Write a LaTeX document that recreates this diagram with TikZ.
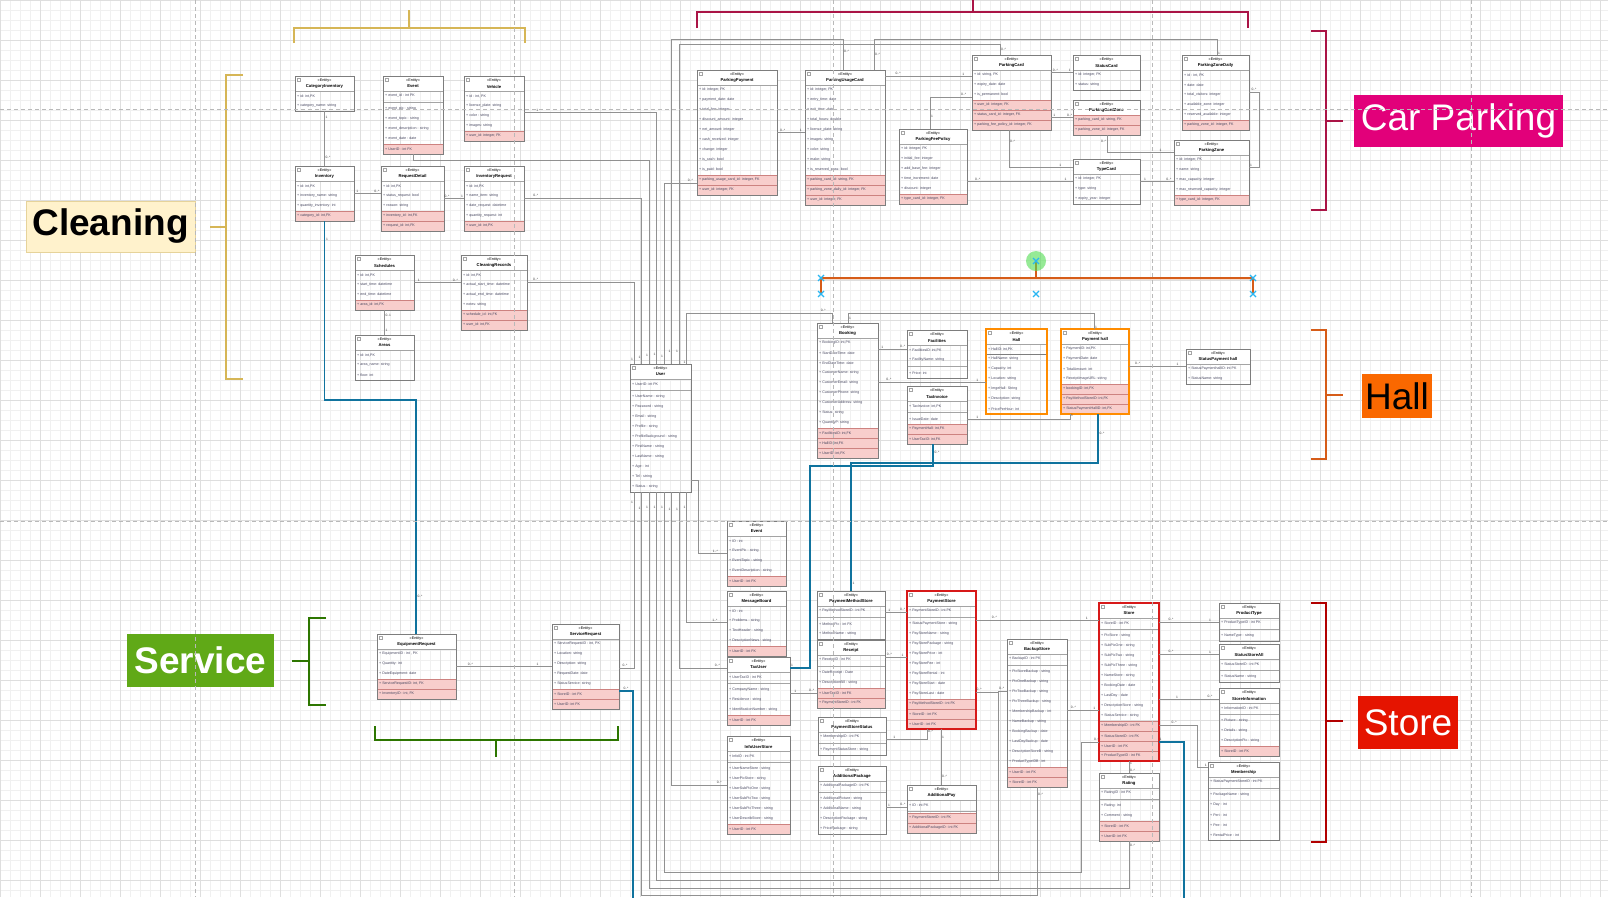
\documentclass[tikz,border=0pt]{standalone}
\usepackage{fontspec}
\setmainfont{Liberation Sans}
\usetikzlibrary{calc}
\definecolor{gridminor}{RGB}{240,240,240}
\definecolor{gridmajor}{RGB}{222,222,222}
\definecolor{pagedash}{RGB}{185,185,185}
\definecolor{entborder}{RGB}{125,125,125}
\definecolor{linegray}{RGB}{145,145,145}
\definecolor{fkpink}{RGB}{248,206,204}
\definecolor{fkline}{RGB}{205,130,128}
\definecolor{rowtext}{RGB}{70,70,95}
\definecolor{tealline}{RGB}{16,115,158}
\definecolor{hallorange}{RGB}{255,140,0}
\definecolor{storered}{RGB}{215,25,25}
\definecolor{cleangold}{RGB}{214,182,86}
\definecolor{cleanfill}{RGB}{255,242,204}
\definecolor{parkmag}{RGB}{226,0,122}
\definecolor{parkdark}{RGB}{170,20,70}
\definecolor{hallfill}{RGB}{250,104,0}
\definecolor{hallline}{RGB}{214,92,24}
\definecolor{servgreen}{RGB}{96,169,23}
\definecolor{servline}{RGB}{45,118,0}
\definecolor{storefill}{RGB}{229,20,0}
\definecolor{storeline}{RGB}{178,0,0}
\definecolor{handleblue}{RGB}{41,182,242}
\definecolor{handlegreen}{RGB}{80,220,80}
% one ER entity: [style]{name}{x}{y}{width}{title}{rows as text/kind}
\newcommand{\entitybox}[7][]{%
  \fill[white] (#3,#4) rectangle ++(#5,15);
  \node[entstereo] at ({#3+#5/2},#4+5) {«Entity»};
  \node[enttitle] at ({#3+#5/2},#4+10.5) {#6};
  \draw[entline] (#3+2,#4+2) rectangle ++(3,3);
  \draw[entline] (#3,#4+15) -- ++(#5,0);
  \pgfmathsetmacro\tmpy{#4+15}\global\let\rowy\tmpy
  \foreach \txt/\kind in {#7}{%
    \if\kind s
      \draw[entline] (#3,\rowy+1.5) -- ++(#5,0);
      \pgfmathsetmacro\nexty{\rowy+3}%
    \else\if\kind l
      \draw[entborder, line width=0.8pt] (#3,\rowy) -- ++(#5,0);
      \pgfmathsetmacro\nexty{\rowy}%
    \else
      \if\kind f \filldraw[fkrow] (#3,\rowy) rectangle ++(#5,10);\fi
      \node[entrow] at (#3+2,\rowy+5) {+ \ignorespaces\txt};
      \pgfmathsetmacro\nexty{\rowy+10}%
    \fi\fi
    \global\let\rowy\nexty
  }%
  \pgfmathsetmacro\entheight{\rowy-#4}%
  \node[entbox, #1, minimum width=#5, minimum height=\entheight, anchor=north west] (#2) at (#3,#4) {};
}

\begin{document}
\begin{tikzpicture}[x=1pt, y=-1pt,
  entbox/.style={draw=entborder, line width=0.7pt, inner sep=0pt, outer sep=0pt},
  hallbox/.style={draw=hallorange, line width=1.6pt},
  storebox/.style={draw=storered, line width=1.6pt},
  entline/.style={draw=entborder!70, line width=0.5pt},
  fkrow/.style={fill=fkpink, draw=fkline, line width=0.4pt},
  entrow/.style={anchor=west, inner sep=0pt, text=rowtext, font=\fontsize{3.6}{4}\selectfont},
  entstereo/.style={inner sep=0pt, font=\fontsize{3.8}{4}\selectfont},
  enttitle/.style={inner sep=0pt, font=\bfseries\fontsize{4.2}{4.5}\selectfont},
  conn/.style={draw=linegray, line width=0.8pt},
  tealconn/.style={draw=tealline, line width=1.8pt},
  mult/.style={inner sep=0.6pt, text=black!75, font=\fontsize{3.3}{3.5}\selectfont},
  grouptag/.style={inner sep=0pt, font=\fontsize{37}{40}\selectfont},
  cleanbr/.style={draw=cleangold, line width=1.6pt},
  parkbr/.style={draw=parkdark, line width=1.6pt},
  hallbr/.style={draw=hallline, line width=1.6pt},
  storebr/.style={draw=storeline, line width=1.6pt},
  servbr/.style={draw=servline, line width=1.6pt},
  pagebreak/.style={draw=pagedash, line width=1pt, dash pattern=on 4pt off 3pt}
]
\useasboundingbox (0,0) rectangle (1608,897);
\clip (0,0) rectangle (1608,897);
\fill[white] (0,0) rectangle (1608,897);
% grid
\foreach \gx in {0,10,...,1600} \draw[gridminor, line width=0.5pt] (\gx,0) -- (\gx,897);
\foreach \gy in {0,10,...,890} \draw[gridminor, line width=0.5pt] (0,\gy) -- (1608,\gy);
\foreach \gx in {0,40,...,1600} \draw[gridmajor, line width=0.5pt] (\gx,0) -- (\gx,897);
\foreach \gy in {0,40,...,880} \draw[gridmajor, line width=0.5pt] (0,\gy) -- (1608,\gy);

% group brackets and tags
\draw[cleanbr] (243,75) -- (226,75) -- (226,379) -- (243,379) (226,227) -- (210,227);
\draw[cleanbr] (294,43) -- (294,28) -- (525,28) -- (525,43) (409,28) -- (409,10);
\draw[parkbr] (697,28) -- (697,12) -- (1248,12) -- (1248,28) (973,12) -- (973,-2);
\draw[parkbr] (1311,31) -- (1326,31) -- (1326,210) -- (1311,210) (1326,121) -- (1343,121);
\draw[hallbr] (1311,330) -- (1326,330) -- (1326,459) -- (1311,459) (1326,395) -- (1343,395);
\draw[storebr] (1311,603) -- (1326,603) -- (1326,842) -- (1311,842) (1326,721) -- (1343,721);
\draw[servbr] (326,618) -- (309,618) -- (309,705) -- (326,705) (309,661) -- (292,661);
\draw[servbr] (375,726) -- (375,740) -- (618,740) -- (618,726) (496,740) -- (496,757);
\node[grouptag, fill=cleanfill, draw=cleangold!60, minimum width=169, minimum height=51, font=\bfseries\fontsize{37}{40}\selectfont] (cleaningtag) at (110.5,226.5) {Cleaning};
\node[grouptag, fill=parkmag, text=white, minimum width=209, minimum height=52] (parkingtag) at (1458.5,121) {Car Parking};
\node[grouptag, fill=hallfill, minimum width=70, minimum height=44] (halltag) at (1397,396) {Hall};
\node[grouptag, fill=servgreen, text=white, minimum width=147, minimum height=53, font=\bfseries\fontsize{37}{40}\selectfont] (servicetag) at (200.5,660.5) {Service};
\node[grouptag, fill=storefill, text=white, minimum width=100, minimum height=53] (storetag) at (1408,722.5) {Store};

% cleaning
\entitybox{catinv}{295}{76}{59}{CategoryInventory}{{id: int,PK}/r,category\_name: string/r}
\entitybox{evtop}{383}{76}{60}{Event}{event\_id : int PK/r,-/s,event\_pic : string/r,event\_topic : string/r,event\_description : string/r,event\_date : date/r,UserID : int FK/f}
\entitybox{vehicle}{464}{76}{60}{Vehicle}{{id : int, PK}/r,license\_plate: string/r,color : string/r,images: string/r,{user\_id: integer, FK}/f}
\entitybox{inv}{295}{166}{59}{Inventory}{{id: int,PK}/r,inventory\_name: string/r,quantity\_inventory: int/r,{category\_id: int,FK}/f}
\entitybox{reqdetail}{381}{166}{63}{RequestDetail}{{id: int,PK}/r,status\_request: bool/r,reason: string/r,{inventory\_id: int,FK}/f,{request\_id: int,FK}/f}
\entitybox{invreq}{464}{166}{60}{InventoryRequest}{{id: int,PK}/r,name\_item: string/r,date\_request: datetime/r,quantity\_request: int/r,{user\_id: int,PK}/f}
\entitybox{sched}{355}{255}{59}{Schedules}{{id: int,PK}/r,start\_time: datetime/r,end\_time: datetime/r,{area\_id: int,FK}/f}
\entitybox{cleanrec}{461}{255}{66}{CleaningRecords}{{id: int,PK}/r,actual\_start\_time: datetime/r,actual\_end\_time: datetime/r,notes: string/r,{schedule\_id: int,FK}/f,{user\_id: int,FK}/f}
\entitybox{areas}{355}{335}{59}{Areas}{{id: int,PK}/r,area\_name: string/r,floor: int/r}
\entitybox{user}{630}{364}{61}{User}{UserID: int PK/r,-/s,UserName : string/r,Password : string/r,Email : string/r,Profile : string/r,ProfileBackground : string/r,FirstName : string/r,LastName : string/r,Age : int/r,Tel : string/r,Status : string/r}

% car parking
\entitybox{ppay}{697}{70}{80}{ParkingPayment}{{id: integer, PK}/r,payment\_date: date/r,total\_fee: integer/r,discount\_amount: integer/r,net\_amount: integer/r,cash\_received: integer/r,change: integer/r,is\_cash: bool/r,is\_paid: bool/r,{parking\_usage\_card\_id: integer, FK}/f,{user\_id: integer, FK}/f}
\entitybox{puc}{805}{70}{80}{ParkingUsageCard}{{id: integer, PK}/r,entry\_time: date/r,exit\_time: date/r,total\_hours: double/r,license\_plate: string/r,images: string/r,color: string/r,make: string/r,is\_reserved\_pass: bool/r,{parking\_card\_id: string, FK}/f,{parking\_zone\_daily\_id: integer, FK}/f,{user\_id: integer, FK}/f}
\entitybox{fee}{899}{129}{68}{ParkingFeePolicy}{{id: integer, PK}/r,initial\_fee: integer/r,add\_base\_fee: integer/r,time\_increment: date/r,discount: integer/r,{type\_card\_id: integer, FK}/f}
\entitybox{pcard}{972}{55}{79}{ParkingCard}{{id: string, PK}/r,expiry\_date: date/r,is\_permanent: bool/r,{user\_id: integer, FK}/f,{status\_card\_id: integer, FK}/f,{parking\_fee\_policy\_id: integer, FK}/f}
\entitybox{statuscard}{1073}{55}{67}{StatusCard}{{id: integer, PK}/r,status: string/r}
\entitybox{pcardzone}{1073}{100}{67}{ParkingCardZone}{{parking\_card\_id: string, FK}/f,{parking\_zone\_id: integer, FK}/f}
\entitybox{typecard}{1073}{159}{67}{TypeCard}{{id: integer, PK}/r,type: string/r,expiry\_year: integer/r}
\entitybox{pzd}{1182}{55}{67}{ParkingZoneDaily}{{id : int, PK}/r,date: date/r,total\_visitors: integer/r,available\_zone: integer/r,reserved\_available: integer/r,{parking\_zone\_id: integer, FK}/f}
\entitybox{pzone}{1174}{140}{75}{ParkingZone}{{id: integer, PK}/r,name: string/r,max\_capacity: integer/r,max\_reserved\_capacity: integer/r,{type\_card\_id: integer, FK}/f}

% hall
\entitybox{booking}{817}{323}{61}{Booking}{{BookingID: int,PK}/r,StartDateTime: date/r,EndDateTime: date/r,CustomerName: string/r,CustomerEmail: string/r,CustomerPhone: string/r,CustomerAddress: string/r,Status: string/r,QuantityP: string/r,{FacilitiesID: int,FK}/f,{HallID: int,FK}/f,{UserID: int,FK}/f}
\entitybox{facilities}{907}{330}{60}{Facilities}{{FacilitiesID: int,PK}/r,FacilityName: string/r,-/s,Price: int/r}
\entitybox{taxinv}{907}{386}{60}{TaxInvoice}{{TaxInvoice: int,PK}/r,-/s,IssueDate: date/r,{PaymentHall: int,FK}/f,{UserTaxID: int,FK}/f}
\entitybox[hallbox]{hall}{986}{329}{61}{Hall}{{HallID: int,PK}/r,-/l,HallName: string/r,Capacity: int/r,Location: string/r,ImgeHall: String/r,Description: string/r,PricePerHour: int/r}
\entitybox[hallbox]{payhall}{1061}{329}{68}{Payment hall}{{PaymentID: int,PK}/r,PaymentDate: date/r,TotalAmount: int/r,ReceiptImageURL: string/r,{bookingID: int,FK}/f,{PayMethodStoreID: int,FK}/f,{StatusPaymentHallID: int,FK}/f}
\entitybox{sph}{1186}{349}{64}{StatusPayment hall}{StatusPaymenthallID: int PK/r,StatusName: string/r}

% service and store
\entitybox{evlow}{727}{521}{59}{Event}{ID : int/r,EventPic : string/r,EventTopic : string/r,EventDescription : string/r,UserID : int FK/f}
\entitybox{msgb}{727}{591}{59}{MessageBoard}{ID : int/r,Problems : string/r,TextHeader : string/r,DescriptionNews : string/r,UserID : int FK/f}
\entitybox{taxuser}{727}{657}{63}{TaxUser}{UserTaxID : int PK/r,-/s,CompanyName : string/r,Residence : string/r,IdentificationNumber : string/r,UserID : int FK/f}
\entitybox{infous}{727}{736}{63}{InfoUserStore}{InfoID : int PK/r,-/s,UserNameStore : string/r,UserPicStore : string/r,UserSubPicOne : string/r,UserSubPicTwo : string/r,UserSubPicThree : string/r,UserDescribStore : string/r,UserID : int FK/f}
\entitybox{pms}{817}{591}{68}{PaymentMethodStore}{PayMethodStoreID : int PK/r,-/s,MethodPic : int FK/r,MethodName : string/r}
\entitybox{receipt}{817}{640}{68}{Receipt}{ReceiptID : int PK/r,-/s,DateReceipt : Date/r,DescriptionBill : string/r,UserTaxID : int FK/f,PaymentStoreID : int FK/f}
\entitybox[storebox]{payst}{907}{591}{69}{PaymentStore}{PaymentStoreID : int PK/r,-/s,StatusPaymentStore : string/r,PayStoreName : string/r,PayStorePackage : string/r,PayStorePrice : int/r,PayStoreFee : int/r,PayStoreRental : int/r,PayStoreStart : date/r,PayStoreLast : date/r,PayMethodStoreID : int FK/f,StoreID : int FK/f,UserID : int FK/f}
\entitybox{pss}{818}{717}{68}{PaymentStoreStatus}{MembershipID : int PK/r,-/s,PaymentStatusStore : string/r}
\entitybox{addpkg}{818}{766}{68}{AdditionalPackage}{AdditionalPackageID : int PK/r,-/s,AdditionalPicture : string/r,AdditionalName : string/r,DescriptionPackage : string/r,PricePackage : string/r}
\entitybox{addpay}{907}{785}{69}{AdditionalPay}{ID : int PK/r,-/s,PaymentStoreID : int FK/f,AdditionalPackageID : int FK/f}
\entitybox{eqreq}{377}{634}{79}{EquipmentRequest}{{EquipmentID : int , PK}/r,Quantity: int/r,DateEquipment: date/r,{ServiceRequestID: int, FK}/f,{InventoryID : int, FK}/f}
\entitybox{servreq}{552}{624}{67}{ServiceRequest}{{ServiceRequestID : int, PK}/r,Location: string/r,Description: string/r,RequestDate: date/r,StatusService: string/r,StoreID : int FK/f,UserID: int FK/f}
\entitybox[storebox]{store}{1099}{603}{60}{Store}{StoreID : int PK/r,-/s,PicStore : string/r,SubPicOne : string/r,SubPicTwo : string/r,SubPicThree : string/r,NameStore : string/r,BookingDate : date/r,LastDay : date/r,DescriptionStore : string/r,StatusService : string/r,MembershipID : int FK/f,StatusStoreID : int FK/f,UserID : int FK/f,ProductTypeID : int FK/f}
\entitybox{ptype}{1219}{603}{60}{ProductType}{ProductTypeID : int PK/r,-/s,NameType : string/r}
\entitybox{ssa}{1219}{644}{60}{StatusStoreAll}{StatusStoreID : int PK/r,-/s,StatusName : string/r}
\entitybox{sinfo}{1219}{688}{60}{StoreInformation}{InformationID : int PK/r,-/s,Picture : string/r,Details : string/r,DescriptionPic : string/r,StoreID : int FK/f}
\entitybox{member}{1208}{762}{71}{Membership}{StatusPaymentStoreID : int PK/r,-/s,PackageName : string/r,Day : int/r,Peri : int/r,Pee : int/r,RentalPrice : int/r}
\entitybox{backup}{1007}{639}{60}{BackupStore}{BackupID : int PK/r,-/s,PicStoreBackup : string/r,PicOneBackup : string/r,PicTwoBackup : string/r,PicThreeBackup : string/r,MembershipBackup : int/r,NameBackup : string/r,BookingBackup : date/r,LastDayBackup : date/r,DescriptionStoreB : string/r,ProductTypeIDB : int/r,UserID : int FK/f,StoreID : int FK/f}
\entitybox{rating}{1099}{773}{60}{Rating}{RatingID : int PK/r,-/s,Rating: int/r,Comment : string/r,StoreID : int FK/f,UserID: int FK/f}

% ends on the User box
\foreach \k in {0,...,7}{
  \coordinate (ut\k) at ($(user.north west)+({4+7.5*\k},0)$);
  \coordinate (ub\k) at ($(user.south west)+({4+7.5*\k},0)$);
}

% cleaning links
\draw[conn] (catinv.south) -- node[mult,pos=.12,right]{1} node[mult,pos=.85,right]{0..*} (inv.north);
\draw[conn] (inv.east) -- node[mult,pos=.12,above]{1} node[mult,pos=.85,above]{0..*} (inv.east -| reqdetail.west);
\draw[conn] (reqdetail.east) -- node[mult,pos=.15,above]{0..*} node[mult,pos=.9,above]{1} (reqdetail.east -| invreq.west);
\draw[conn] (sched.east) -- node[mult,pos=.1,above]{1} node[mult,pos=.88,above]{0..*} (sched.east -| cleanrec.west);
\draw[conn] (sched.south) -- node[mult,pos=.2,right]{0..1} node[mult,pos=.8,right]{1} (areas.north);
\draw[conn] ($(cleanrec.north east)+(0,27)$) -| node[mult,pos=.04,above]{0..*} node[mult,pos=.97,left]{1} (ut0);
\draw[conn] ($(invreq.north east)+(0,32)$) -| node[mult,pos=.05,above]{0..*} node[mult,pos=.98,left]{1} (ut1);
\draw[conn] (evtop.south) -- ++(0,6) -| node[mult,pos=.98,left]{1} (ut2);
\draw[conn] ($(vehicle.north east)+(0,36)$) -| node[mult,pos=.05,above]{1} node[mult,pos=.98,left]{1} (ut3);
\draw[conn] ($(ppay.north west)+(0,113)$) -| node[mult,pos=.1,above]{0..*} node[mult,pos=.98,left]{1} (ut4);
\draw[conn] ($(puc.north west)+(38,0)$) -- node[mult,pos=.6,right]{0..*} ++(0,-31) -| node[mult,pos=.98,left]{1} (ut5);
\draw[conn] ($(pcard.north west)+(28,0)$) -- node[mult,pos=.5,right]{0..*} ++(0,-11) -| node[mult,pos=.98,left]{1} (ut6);
\draw[conn] ($(booking.north west)+(15,0)$) -- ++(0,-10) -| node[mult,pos=.03,above]{0..*} node[mult,pos=.98,left]{1} (ut7);

% car parking links
\draw[conn] (ppay.east) -- node[mult,pos=.2,above]{0..*} node[mult,pos=.85,above]{1} (ppay.east -| puc.west);
\draw[conn] ($(puc.north east)+(0,6)$) -- node[mult,pos=.15,above]{0..*} node[mult,pos=.9,above]{1} ($(pcard.north west)+(0,21)$);
\draw[conn] ($(fee.north west)+(31,0)$) |- node[mult,pos=.2,right]{1} node[mult,pos=.9,above]{0..*} ($(pcard.north west)+(0,42)$);
\draw[conn] ($(fee.north east)+(0,52.5)$) -- node[mult,pos=.1,above]{0..*} node[mult,pos=.93,above]{1} (typecard.west);
\draw[conn] ($(pcard.north east)+(0,17.5)$) -- node[mult,pos=.2,above]{0..*} node[mult,pos=.85,above]{1} (statuscard.west);
\draw[conn] ($(pcard.north east)+(0,62.5)$) -- node[mult,pos=.15,above]{1} node[mult,pos=.85,above]{0..*} (pcardzone.west);
\draw[conn] ($(pcard.south west)+(37,0)$) |- node[mult,pos=.15,right]{0..*} node[mult,pos=.9,above]{1} ($(typecard.north west)+(0,8)$);
\draw[conn] ($(pcardzone.south west)+(34,0)$) |- node[mult,pos=.2,left]{0..*} node[mult,pos=.9,above]{1} ($(pzone.north west)+(0,12)$);
\draw[conn] ($(typecard.north east)+(0,22.5)$) -- node[mult,pos=.15,above]{1} node[mult,pos=.85,above]{0..*} ($(pzone.north west)+(0,41.5)$);
\draw[conn] ($(pzd.north east)+(0,37)$) -- node[mult,pos=.5,above]{0..*} ++(10,0) |- node[mult,pos=.9,above]{1} ($(pzone.north east)+(0,27)$);
\draw[conn] ($(puc.north west)+(69,0)$) -- node[mult,pos=.5,right]{0..*} ++(0,-31) -| node[mult,pos=.95,right]{1} ($(pzd.north west)+(35,0)$);

% hall links
\draw[conn] ($(booking.north east)+(0,26)$) -- node[mult,pos=.15,above]{1} node[mult,pos=.85,above]{0..*} ($(facilities.north west)+(0,19)$);
\draw[conn] ($(booking.north east)+(0,59)$) -- node[mult,pos=.1,above]{0..*} node[mult,pos=.92,above]{1} ($(hall.north west)+(0,53)$);
\draw[conn] ($(booking.north west)+(31,0)$) -- node[mult,pos=.5,right]{1} ++(0,-10) -| node[mult,pos=.95,right]{1} ($(payhall.north west)+(33,0)$);
\draw[conn] ($(taxinv.north east)+(0,33)$) -| node[mult,pos=.05,above]{1} node[mult,pos=.9,right]{1} ($(payhall.south west)+(9,0)$);
\draw[conn] ($(payhall.north east)+(0,37)$) -- node[mult,pos=.15,above]{0..*} node[mult,pos=.85,above]{1} ($(sph.north west)+(0,17)$);
\draw[tealconn] ($(payhall.south west)+(37,0)$) -- node[mult,pos=.4,right]{0..*} ++(0,49) -| node[mult,pos=.97,right]{1} ($(pms.north west)+(34,0)$);
\draw[tealconn] ($(taxinv.south west)+(26,0)$) -- node[mult,pos=.4,right]{0..*} ++(0,22) -- ++(-123,0) |- node[mult,pos=.95,above]{1} ($(taxuser.north east)+(0,11)$);

% service links
\draw[tealconn] (inv.south) -- node[mult,pos=.1,right]{1} ++(0,179) -| node[mult,pos=.92,right]{0..*} ($(eqreq.north west)+(39,0)$);
\draw[conn] (eqreq.east) -- node[mult,pos=.15,above]{0..*} node[mult,pos=.85,above]{1} (eqreq.east -| servreq.west);
\draw[conn] ($(servreq.north east)+(0,44)$) -| node[mult,pos=.2,above]{0..*} node[mult,pos=.97,left]{1} (ub0);
\draw[tealconn] ($(servreq.north east)+(0,67)$) -- node[mult,pos=.5,above]{0..*} ++(14,0) |- ($(store.north east)+(25,310)$) |- node[mult,pos=.97,above]{1} ($(store.north east)+(0,139)$);
\draw[conn] (ub1) |- node[mult,pos=.02,left]{1} (1037,895) -- node[mult,pos=.93,right]{0..*} (backup.south);
\draw[conn] (ub2) |- node[mult,pos=.02,left]{1} (1129,888) -- node[mult,pos=.9,right]{0..*} (rating.south);
\draw[conn] (ub3) |- node[mult,pos=.02,left]{1} (998,880) |- node[mult,pos=.93,above]{0..*} ($(payst.north east)+(0,101)$);
\draw[conn] ($(backup.north west)+(0,52)$) -| node[mult,pos=.3,above]{0..*} (998,880);
\draw[conn] (ub4) |- node[mult,pos=.02,left]{1} (1081,872) |- node[mult,pos=.93,above]{0..*} ($(store.north west)+(0,139)$);
\draw[conn] (ub5) |- node[mult,pos=.03,left]{1} node[mult,pos=.93,above]{0..*} ($(infous.north west)+(0,49)$);
\draw[conn] (ub6) |- node[mult,pos=.05,left]{1} node[mult,pos=.9,above]{0..*} ($(taxuser.north west)+(0,11)$);
\draw[conn] (ub7) |- node[mult,pos=.06,left]{1} node[mult,pos=.85,above]{1..*} ($(msgb.north west)+(0,31)$);
\draw[conn] ($(evlow.north west)+(0,32)$) -| node[mult,pos=.2,above]{1..*} (698,480) -- ($(user.north east)+(0,116)$);

% store links
\draw[conn] ($(pms.north east)+(0,21)$) -- node[mult,pos=.2,above]{1} node[mult,pos=.8,above]{0..*} ($(payst.north west)+(0,21)$);
\draw[conn] ($(receipt.north east)+(0,17)$) -- node[mult,pos=.2,above]{0..*} node[mult,pos=.8,above]{1} ($(payst.north west)+(0,66)$);
\draw[conn] ($(taxuser.north east)+(0,36)$) -- node[mult,pos=.2,above]{1} node[mult,pos=.8,above]{0..*} ($(receipt.north west)+(0,53)$);
\draw[conn] ($(payst.north east)+(0,29)$) -- node[mult,pos=.15,above]{0..*} node[mult,pos=.9,above]{1} ($(store.north west)+(0,17)$);
\draw[conn] ($(pss.north east)+(0,22)$) -| node[mult,pos=.1,above]{1} node[mult,pos=.9,right]{0..*} ($(payst.south west)+(20,0)$);
\draw[conn] ($(payst.south west)+(34,0)$) -- node[mult,pos=.15,right]{1} node[mult,pos=.85,right]{0..*} ($(addpay.north west)+(34,0)$);
\draw[conn] ($(addpkg.north east)+(0,41)$) -- node[mult,pos=.15,above]{1} node[mult,pos=.8,above]{0..*} ($(addpay.north west)+(0,22)$);
\draw[conn] ($(backup.north east)+(0,71)$) -- node[mult,pos=.2,above]{0..*} node[mult,pos=.85,above]{1} ($(store.north west)+(0,107)$);
\draw[conn] ($(store.north east)+(0,19)$) -- node[mult,pos=.2,above]{0..*} node[mult,pos=.85,above]{1} ($(ptype.north west)+(0,19)$);
\draw[conn] ($(store.north east)+(0,51)$) -- node[mult,pos=.2,above]{0..*} node[mult,pos=.85,above]{1} ($(ssa.north west)+(0,10)$);
\draw[conn] ($(store.north east)+(0,96)$) -- node[mult,pos=.3,above]{1} node[mult,pos=.85,above]{0..*} ($(sinfo.north west)+(0,11)$);
\draw[conn] ($(store.north east)+(0,122)$) -- node[mult,pos=.4,above]{0..*} ++(38,0) |- node[mult,pos=.9,above]{1} ($(member.north west)+(0,5)$);
\draw[conn] ($(store.south west)+(30,0)$) -- node[mult,pos=.2,right]{1} node[mult,pos=.8,right]{0..*} ($(rating.north west)+(30,0)$);

% page breaks
\foreach \px in {195,514,833,1152,1471} \draw[pagebreak] (\px,0) -- (\px,897);
\foreach \py in {109,521} \draw[pagebreak] (0,\py) -- (1608,\py);

% selected shape with handles
\draw[hallline!40, line width=3pt, opacity=.5] (821,278) -- (1253,278);
\draw[hallline, line width=1.6pt] (821,294) -- (821,278) -- (1253,278) -- (1253,294) (1036,278) -- (1036,261);
\fill[handlegreen, opacity=.6] (1036,261) circle (10pt);
\foreach \hx/\hy in {821/278,821/294,1036/261,1036/294,1253/278,1253/294}
  \draw[handleblue, line width=1.1pt] (\hx-3,\hy-3) -- (\hx+3,\hy+3) (\hx-3,\hy+3) -- (\hx+3,\hy-3);
\end{tikzpicture}
\end{document}
